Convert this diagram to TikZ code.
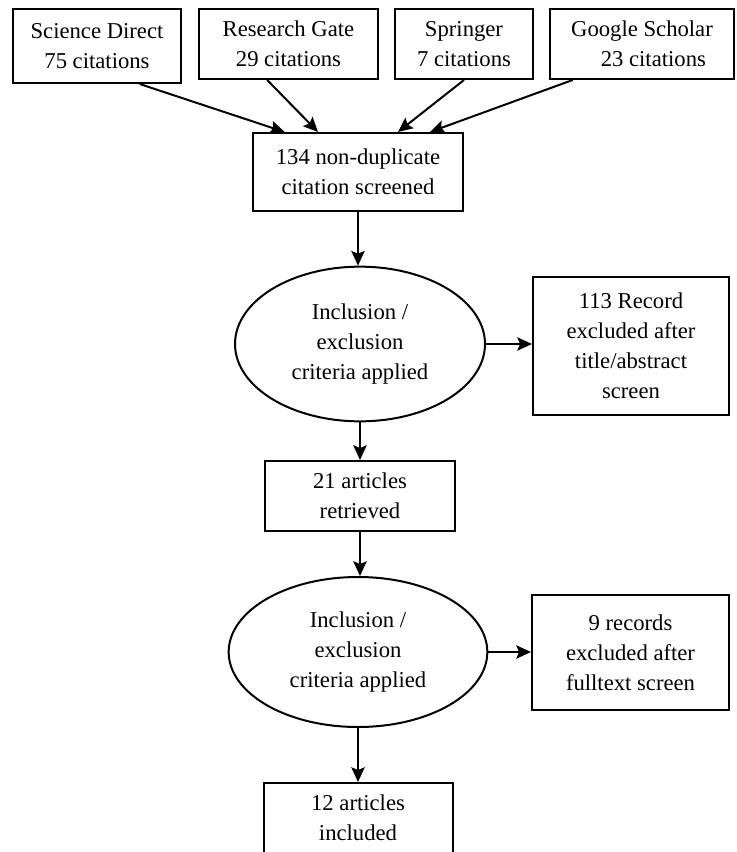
\documentclass[tikz,border=0pt]{standalone}
\usepackage{fontspec}
\setmainfont{Liberation Serif}
\usepackage{tikz}
\usetikzlibrary{positioning, arrows.meta, shapes.geometric, calc}
\tikzset{
  fblk/.style={draw, line width=1.5pt, align=center, inner sep=2pt,
               font=\fontsize{17}{22.5}\selectfont},
  fsrc/.style={fblk, minimum height=52.5pt},
  fell/.style={fblk, ellipse, inner sep=0pt},   % inclusion / exclusion step
  far/.style={-{Stealth[length=11pt, width=10pt, inset=2pt]}, line width=1.5pt},
}
\begin{document}
\begin{tikzpicture}[x=0.75pt, y=-0.75pt]
        \useasboundingbox (0,0) rectangle (736,852);
        % sources
        \node[fsrc, minimum width=126pt, minimum height=55.5pt](sd) at (97,46){Science Direct\\75 citations};
        \node[fsrc, minimum width=134pt](rg) at (288.5,44){Research Gate\\29 citations};
        \node[fsrc, minimum width=103.5pt](sp) at (464,44){Springer\\7 citations};
        \node[fsrc, minimum width=138pt](gs) at (642,44){Google Scholar\\\quad 23 citations};
        % main column
        \node[fblk, minimum width=158pt, minimum height=58.5pt](nd) at (358,172){134 non-duplicate\\citation screened};
        \node[fell, minimum width=187.5pt, minimum height=116pt](ie1) at (360,344){Inclusion /\\exclusion\\criteria applied};
        \node[fblk, minimum width=142.5pt, minimum height=52.5pt](ar) at (360,496){21 articles\\retrieved};
        \node[fell, minimum width=194pt, minimum height=112.5pt](ie2) at (358,652){Inclusion /\\exclusion\\criteria applied};
        \node[fblk, minimum width=141.75pt, minimum height=52.5pt](inc) at (358,818){12 articles\\included};
        % excluded
        \node[fblk, minimum width=147pt, minimum height=103.5pt](rec) at (631,346){113 Record\\excluded after\\title/abstract\\screen};
        \node[fblk, minimum width=147.75pt, minimum height=86.25pt](r9) at (630.5,652.5){9 records\\excluded after\\fulltext screen};
        \draw[far]([xshift=32pt]sd.south)--([xshift=-55pt]nd.north);
        \draw[far]([xshift=-16pt]rg.south)--([xshift=-30pt]nd.north);
        \draw[far](sp.south)--([xshift=30pt]nd.north);
        \draw[far]([xshift=-52pt]gs.south)--([xshift=54pt]nd.north);
        \draw[far](nd.south)--(nd.south |- ie1.north);
        \draw[far](ie1.south -| ar.north)--(ar.north);
        \draw[far](ar.south)--(ar.south |- ie2.north);
        \draw[far](ie2.south)--(ie2.south -| inc.north) -- (inc.north);
        \draw[far](ie1.east)--(ie1.east -| rec.west);
        \draw[far](ie2.east)--(ie2.east -| r9.west);
      \end{tikzpicture}
\end{document}
